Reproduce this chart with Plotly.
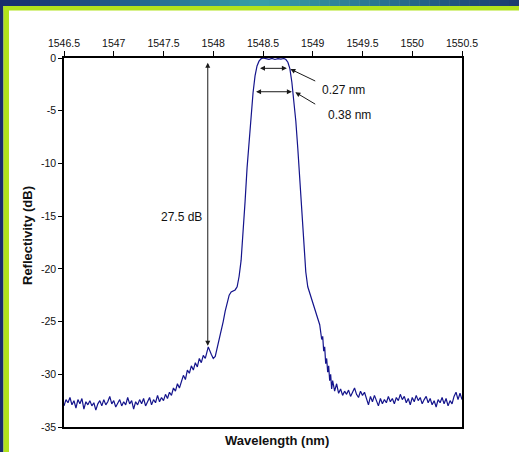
import plotly.graph_objects as go

# ---------------- data ----------------
wavelength_nm = [
    1546.50, 1546.52, 1546.54, 1546.56, 1546.58, 1546.60, 1546.62, 1546.64, 1546.66, 1546.68,
    1546.70, 1546.72, 1546.74, 1546.76, 1546.78, 1546.80, 1546.82, 1546.84, 1546.86, 1546.88,
    1546.90, 1546.92, 1546.94, 1546.96, 1546.98, 1547.00, 1547.02, 1547.04, 1547.06, 1547.08,
    1547.10, 1547.12, 1547.14, 1547.16, 1547.18, 1547.20, 1547.22, 1547.24, 1547.26, 1547.28,
    1547.30, 1547.32, 1547.34, 1547.36, 1547.38, 1547.40, 1547.42, 1547.44, 1547.46, 1547.48,
    1547.50, 1547.52, 1547.54, 1547.56, 1547.58, 1547.60, 1547.62, 1547.64, 1547.66, 1547.68,
    1547.70, 1547.72, 1547.74, 1547.76, 1547.78, 1547.80, 1547.82, 1547.84, 1547.86, 1547.88,
    1547.90, 1547.92, 1547.95, 1547.98, 1548.00, 1548.02, 1548.04, 1548.06, 1548.08, 1548.10,
    1548.12, 1548.14, 1548.16, 1548.18, 1548.20, 1548.22, 1548.24, 1548.26, 1548.28, 1548.30,
    1548.32, 1548.34, 1548.36, 1548.38, 1548.40, 1548.42, 1548.44, 1548.46, 1548.48, 1548.50,
    1548.53, 1548.56, 1548.59, 1548.62, 1548.65, 1548.68, 1548.71, 1548.73, 1548.75, 1548.77,
    1548.79, 1548.81, 1548.83, 1548.85, 1548.87, 1548.89, 1548.91, 1548.93, 1548.95, 1548.97,
    1548.99, 1549.01, 1549.03, 1549.05, 1549.07, 1549.09, 1549.10, 1549.11, 1549.12, 1549.13,
    1549.14, 1549.15, 1549.16, 1549.17, 1549.18, 1549.19, 1549.20, 1549.22, 1549.24, 1549.26,
    1549.28, 1549.30, 1549.32, 1549.34, 1549.36, 1549.38, 1549.40, 1549.42, 1549.44, 1549.46,
    1549.48, 1549.50, 1549.52, 1549.54, 1549.56, 1549.58, 1549.60, 1549.62, 1549.64, 1549.66,
    1549.68, 1549.70, 1549.72, 1549.74, 1549.76, 1549.78, 1549.80, 1549.82, 1549.84, 1549.86,
    1549.88, 1549.90, 1549.92, 1549.94, 1549.96, 1549.98, 1550.00, 1550.02, 1550.04, 1550.06,
    1550.08, 1550.10, 1550.12, 1550.14, 1550.16, 1550.18, 1550.20, 1550.22, 1550.24, 1550.26,
    1550.28, 1550.30, 1550.32, 1550.34, 1550.36, 1550.38, 1550.40, 1550.42, 1550.44, 1550.46,
    1550.48, 1550.50,
]
reflectivity_db = [
    -33.0, -32.4, -32.7, -32.2, -32.9, -32.5, -33.2, -32.4, -32.8, -32.3,
    -33.3, -32.6, -32.9, -32.5, -33.0, -32.7, -33.4, -32.8, -32.5, -33.0,
    -32.4, -32.9, -32.6, -32.1, -32.8, -32.5, -33.1, -32.7, -32.4, -33.0,
    -32.6, -32.9, -32.2, -32.8, -32.5, -33.3, -32.6, -32.9, -32.4, -32.8,
    -32.3, -33.0, -32.5, -32.2, -32.9, -32.4, -32.7, -32.0, -32.6, -32.2,
    -32.5, -31.9, -32.3, -31.7, -32.0, -31.3, -31.6, -30.9, -31.3, -30.6,
    -30.1, -30.5, -29.6, -29.9, -29.2, -29.6, -28.9, -29.3, -28.5, -28.9,
    -28.2, -28.5, -27.4, -28.1, -28.5, -28.3, -27.5, -26.8, -25.9, -25.0,
    -24.0, -23.1, -22.5, -22.2, -22.1, -22.0, -21.7, -20.7, -19.2, -16.6,
    -13.6, -10.4, -7.7, -5.3, -3.3, -1.7, -0.75, -0.3, -0.08, 0.0,
    -0.05, -0.12, -0.04, -0.14, -0.06, -0.10, -0.05, -0.15, -0.4, -1.0,
    -2.3, -4.0, -6.0, -8.6, -11.5, -14.6, -17.8, -20.3, -21.7, -22.3,
    -22.7, -23.3, -24.0, -24.6, -25.3, -26.7, -26.4, -27.8, -27.4, -29.0,
    -28.5, -29.8, -29.2, -30.6, -30.0, -31.4, -30.6, -31.6, -30.9, -31.8,
    -31.4, -32.0, -31.6, -31.9, -31.5, -32.1, -31.7, -31.3, -31.9, -32.2,
    -31.6, -32.0, -31.7, -32.3, -32.9, -32.1, -32.6, -32.0, -32.5, -33.0,
    -32.3, -32.8, -32.4, -32.7, -32.1, -32.6, -32.3, -32.8, -32.2, -32.5,
    -31.9, -32.4, -32.1, -32.7, -32.3, -32.9, -32.2, -32.6, -32.0, -32.5,
    -32.2, -32.8, -32.4, -32.1, -32.7, -32.3, -32.9, -32.5, -33.1, -32.4,
    -32.7, -32.2, -32.8, -32.3, -33.0, -32.5, -32.8, -32.1, -31.7, -32.4,
    -31.8, -32.4,
]

x_tick_values = [1546.5, 1547, 1547.5, 1548, 1548.5, 1549, 1549.5, 1550, 1550.5]
x_tick_labels = ["1546.5", "1547", "1547.5", "1548", "1548.5", "1549", "1549.5", "1550", "1550.5"]
y_tick_values = [0, -5, -10, -15, -20, -25, -30, -35]
y_tick_labels = ["0", "-5", "-10", "-15", "-20", "-25", "-30", "-35"]

# ---------------- layout geometry ----------------
W, H = 519, 452
L, R, T, B = 64, 57, 58, 25
PW, PH = W - L - R, H - T - B


def px(x):
    return (x - L) / PW


def py(y):
    return (H - B - y) / PH


FONT = "Liberation Sans, Arial, sans-serif"

fig = go.Figure()
fig.add_trace(go.Scatter(
    x=wavelength_nm, y=reflectivity_db, mode="lines",
    line=dict(color="#14148c", width=1.2), showlegend=False, hoverinfo="skip",
))

shapes = []
# top gradient band
stops = [(0, (24, 44, 108)), (130, (34, 98, 140)), (260, (56, 160, 166)),
         (390, (40, 112, 142)), (519, (26, 58, 110))]
n = 52
for i in range(n):
    x0 = W * i / n
    x1 = W * (i + 1) / n
    xm = (x0 + x1) / 2
    for (a, ca), (b, cb) in zip(stops[:-1], stops[1:]):
        if a <= xm <= b:
            t = (xm - a) / (b - a)
            c = tuple(int(round(ca[k] + (cb[k] - ca[k]) * t)) for k in range(3))
            break
    shapes.append(dict(type="rect", xref="paper", yref="paper",
                       x0=px(x0), x1=px(x1 + 0.5), y0=py(6), y1=py(0),
                       fillcolor="rgb(%d,%d,%d)" % c, line=dict(width=0), layer="below"))
# left navy strip
shapes.append(dict(type="rect", xref="paper", yref="paper", x0=px(0), x1=px(3.5),
                   y0=py(H), y1=py(0), fillcolor="#1a2c6c", line=dict(width=0), layer="below"))
# green L-border
shapes.append(dict(type="rect", xref="paper", yref="paper", x0=px(3.5), x1=px(9),
                   y0=py(H), y1=py(6), fillcolor="#b2e31c", line=dict(width=0), layer="below"))
shapes.append(dict(type="rect", xref="paper", yref="paper", x0=px(3.5), x1=px(W),
                   y0=py(10.5), y1=py(6), fillcolor="#b2e31c", line=dict(width=0), layer="below"))

ann = []
arrow_color = "#1a1a1a"
# 27.5 dB vertical double arrow
ann.append(dict(x=1547.945, y=-27.3, ax=1547.945, ay=-0.3, xref="x", yref="y", axref="x", ayref="y",
                text="", showarrow=True, arrowhead=2, startarrowhead=2, arrowside="end+start",
                arrowsize=1, startarrowsize=1, arrowwidth=1, arrowcolor=arrow_color))
ann.append(dict(x=1547.91, y=-15.1, xref="x", yref="y", text="27.5 dB", showarrow=False,
                xanchor="right", yanchor="middle", font=dict(family=FONT, size=12, color="#111")))
# 0.27 nm horizontal
ann.append(dict(x=1548.74, y=-0.98, ax=1548.455, ay=-0.98, xref="x", yref="y", axref="x", ayref="y",
                text="", showarrow=True, arrowhead=2, startarrowhead=2, arrowside="end+start",
                arrowsize=1, startarrowsize=1, arrowwidth=1, arrowcolor=arrow_color))
# 0.38 nm horizontal
ann.append(dict(x=1548.79, y=-3.2, ax=1548.415, ay=-3.2, xref="x", yref="y", axref="x", ayref="y",
                text="", showarrow=True, arrowhead=2, startarrowhead=2, arrowside="end+start",
                arrowsize=1, startarrowsize=1, arrowwidth=1, arrowcolor=arrow_color))
# pointer arrows
ann.append(dict(x=1548.775, y=-1.05, ax=1549.04, ay=-2.25, xref="x", yref="y", axref="x", ayref="y",
                text="", showarrow=True, arrowhead=2, arrowsize=1, arrowwidth=1, arrowcolor=arrow_color))
ann.append(dict(x=1548.825, y=-3.25, ax=1549.04, ay=-4.46, xref="x", yref="y", axref="x", ayref="y",
                text="", showarrow=True, arrowhead=2, arrowsize=1, arrowwidth=1, arrowcolor=arrow_color))
ann.append(dict(x=1549.07, y=-3.05, xref="x", yref="y", text="0.27 nm", showarrow=False,
                xanchor="left", yanchor="middle", font=dict(family=FONT, size=12, color="#111")))
ann.append(dict(x=1549.13, y=-5.4, xref="x", yref="y", text="0.38 nm", showarrow=False,
                xanchor="left", yanchor="middle", font=dict(family=FONT, size=12, color="#111")))
# axis titles
ann.append(dict(x=px(277), y=py(440), xref="paper", yref="paper", text="<b>Wavelength (nm)</b>",
                showarrow=False, xanchor="center", yanchor="middle",
                font=dict(family=FONT, size=13, color="#111")))
ann.append(dict(x=px(28), y=py(236), xref="paper", yref="paper", text="<b>Reflectivity (dB)</b>",
                showarrow=False, xanchor="center", yanchor="middle", textangle=-90,
                font=dict(family=FONT, size=13, color="#111")))

fig.update_layout(
    width=W, height=H, margin=dict(l=L, r=R, t=T, b=B, pad=0),
    paper_bgcolor="white", plot_bgcolor="white",
    shapes=shapes, annotations=ann,
    font=dict(family=FONT, color="#111"),
    xaxis=dict(range=[1546.5, 1550.5], side="top", showline=True, mirror=True,
               linecolor="black", linewidth=1.5, ticks="outside", ticklen=5, tickwidth=1,
               tickcolor="black", tickvals=x_tick_values, ticktext=x_tick_labels,
               tickfont=dict(family=FONT, size=10.5, color="#111"),
               showgrid=False, zeroline=False, fixedrange=True),
    yaxis=dict(range=[-35, 0], showline=True, mirror=True, linecolor="black", linewidth=1.5,
               ticks="outside", ticklen=4, tickwidth=1, tickcolor="black",
               tickvals=y_tick_values, ticktext=y_tick_labels,
               tickfont=dict(family=FONT, size=10.5, color="#111"),
               showgrid=False, zeroline=False, fixedrange=True),
)

fig.write_html(
    "out.html",
    config={"displayModeBar": False},
    post_script="document.body.style.margin='0';document.body.style.overflow='hidden';",
)
